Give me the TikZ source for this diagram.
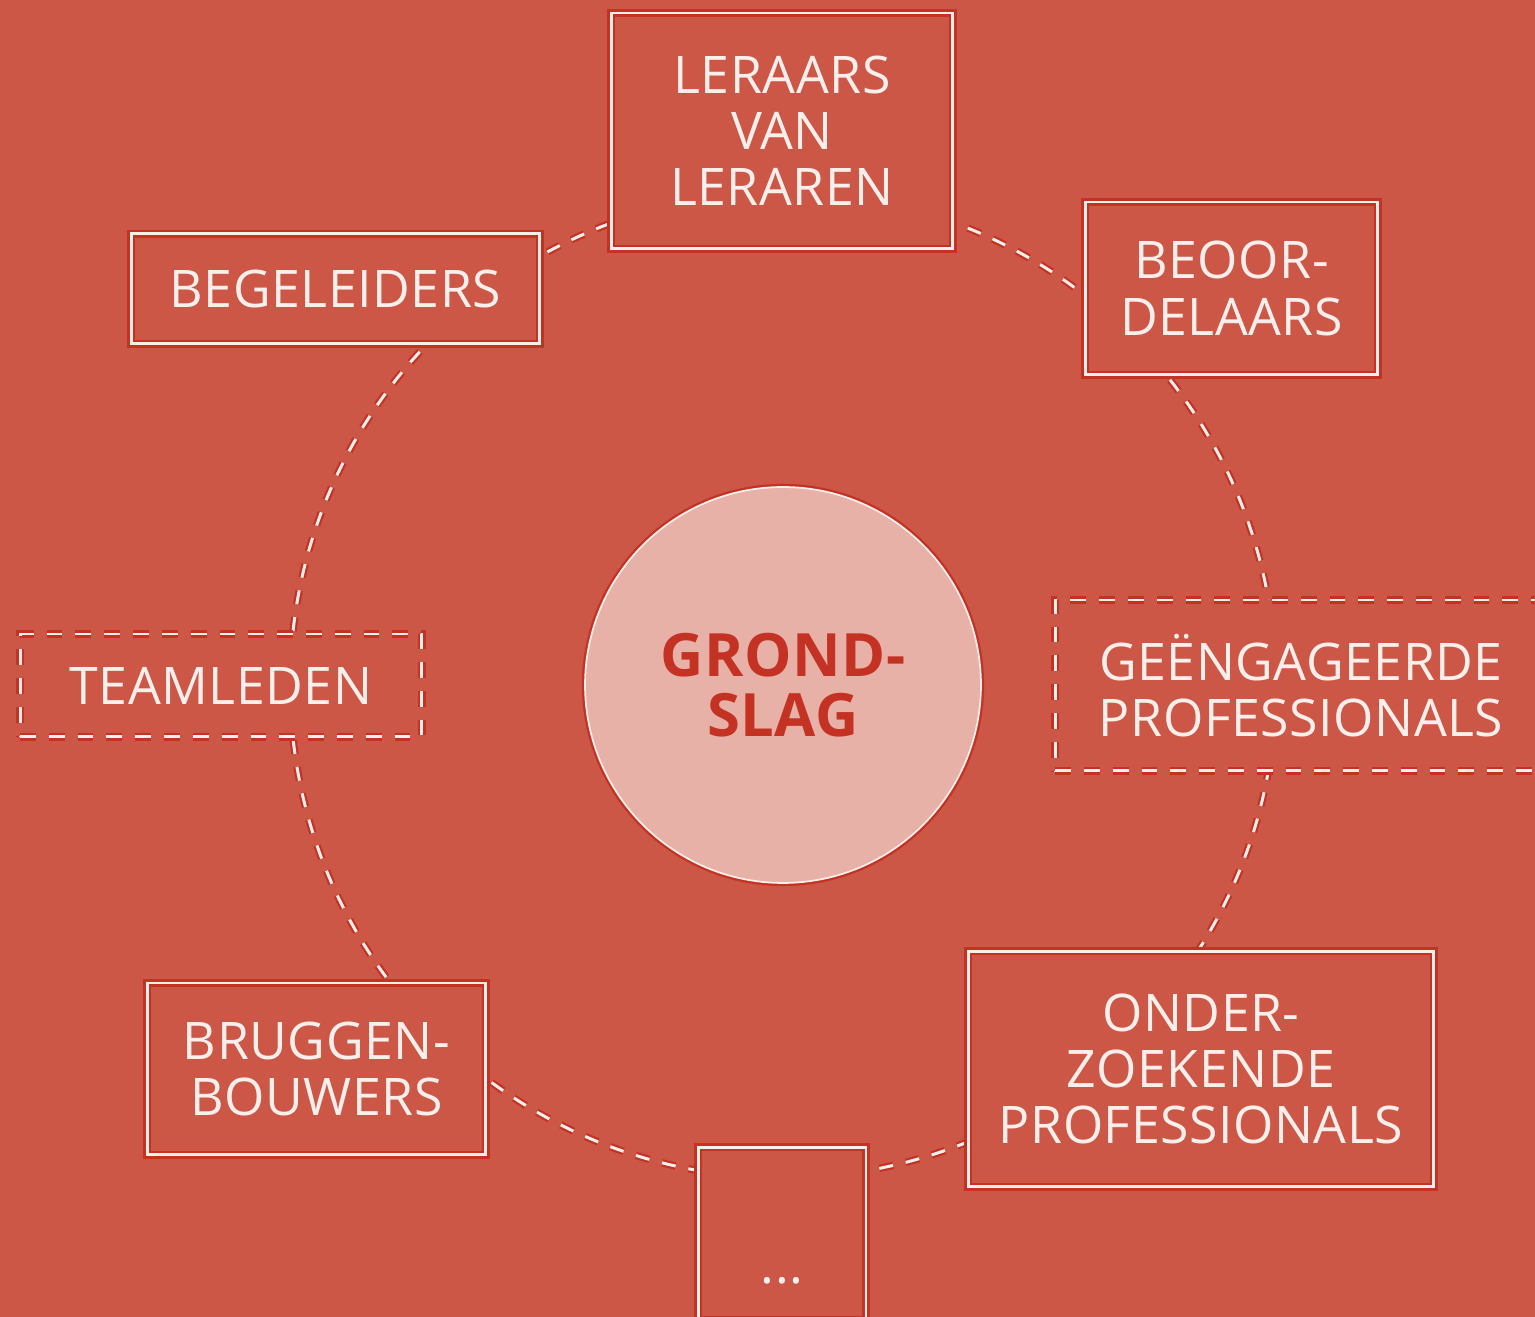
\documentclass[tikz,border=0pt]{standalone}
\usepackage{fontspec}
\setmainfont{Open Sans}[LetterSpace=1]
\definecolor{bg}{RGB}{205,87,70}
\definecolor{halo}{RGB}{196,50,36}
\definecolor{core}{RGB}{232,177,168}
\definecolor{ink}{RGB}{252,238,234}
\tikzset{
  role/.style={draw=ink, line width=1.7pt, align=center, text=ink,
    font=\fontsize{29.5}{32}\selectfont,
    preaction={fill=bg}, preaction={draw=halo, line width=4.2pt}},
  loose/.style={role, dash pattern=on 9pt off 7.4pt,
    preaction={draw=halo, line width=4.2pt, dash pattern=on 9pt off 7.4pt}},
  link/.style={draw=ink, line width=1.7pt, dash pattern=on 8pt off 7.4pt,
    preaction={draw=halo, line width=4.2pt, dash pattern=on 8pt off 7.4pt}}
}
\begin{document}
\begin{tikzpicture}[x=0.02cm,y=0.02cm]
   \useasboundingbox (0,0) rectangle (1535,1317);
   \clip (0,0) rectangle (1535,1317);
   \fill[bg] (0,0) rectangle (1535,1317);
   \node (grond) at (783,632) [circle,minimum size=7.92cm,fill=core,draw=ink,line width=1pt,
      preaction={draw=halo,line width=3.6pt},text=halo,align=center,
      font=\bfseries\fontsize{34}{34.5}\selectfont] {GROND-\\SLAG};
   % the ring of roles
   \foreach \from/\to in {90/41.4, 41.4/0, 0/-42.5, -42.5/-90, -90/-140.5, -140.5/-180, 180/128, 128/90}
      \draw[link] ([shift={(\from:9.86cm)}]grond.center) arc[start angle=\from, end angle=\to, radius=9.86cm];
   \node (leraars) at (782,1186)   [role,minimum width=6.84cm,minimum height=4.72cm] {LERAARS\\VAN\\LERAREN};
   \node (begel)   at (335.5,1028) [role,minimum width=8.18cm,minimum height=2.2cm]  {BEGELEIDERS};
   \node (beoor)   at (1231.5,1028.5) [role,minimum width=5.86cm,minimum height=3.46cm] {BEOOR-\\DELAARS};
   \node (team)    at (221,631.5)  [loose,minimum width=8.04cm,minimum height=2.06cm] {TEAMLEDEN};
   \node (geeng)   at (1301,631.5) [loose,minimum width=9.84cm,minimum height=3.42cm] {GEËNGAGEERDE\\PROFESSIONALS};
   \node (bruggen) at (316.5,248)  [role,minimum width=6.78cm,minimum height=3.44cm] {BRUGGEN-\\BOUWERS};
   \node (onder)   at (1201,248)   [role,minimum width=9.32cm,minimum height=4.72cm] {ONDER-\\ZOEKENDE\\PROFESSIONALS};
   \node (more)    at (782,83.5)   [role,minimum width=3.36cm,minimum height=3.46cm,text height=2.02cm,text depth=0pt] {...};
\end{tikzpicture}
\end{document}
